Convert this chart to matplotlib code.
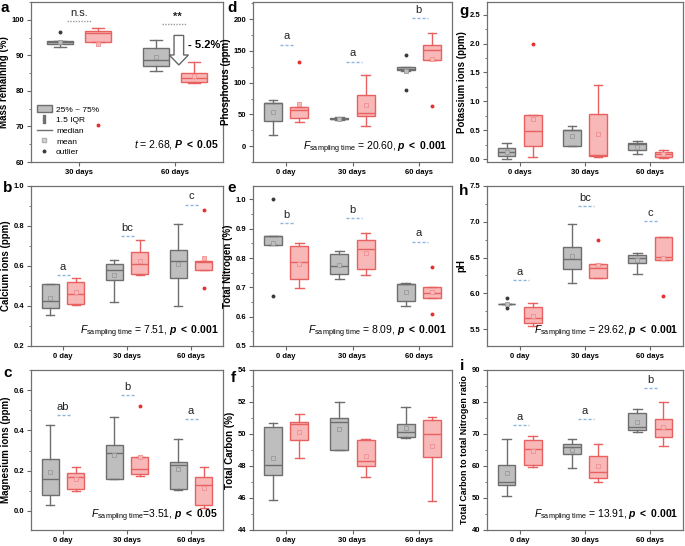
import matplotlib

matplotlib.use("Agg")
import matplotlib.pyplot as plt
from matplotlib.lines import Line2D
from matplotlib.patches import Patch
from matplotlib.ticker import FormatStrFormatter, MultipleLocator

plt.rcParams.update({
    "font.family": ["Liberation Sans", "DejaVu Sans"],
    "mathtext.fontset": "custom",
    "mathtext.rm": "Liberation Sans",
    "mathtext.it": "Liberation Sans:italic",
    "mathtext.bf": "Liberation Sans:bold",
    "mathtext.bfit": "Liberation Sans:italic:bold",
})

DAYS = ["0 day", "30 days", "60 days"]
DAYS_K = ["0 days", "30 days", "60 days"]
DAYS_MASS = ["30 days", "60 days"]

# box values: (whisker low, q1, median, q3, whisker high); _g = grey, _r = red
mass_g = [(92.4, 93.3, 93.8, 94.1, 94.1), (85.6, 86.9, 88.7, 92.2, 94.2)]
mass_g_mean = [93.8, 89.4]
mass_g_out = [[96.5], []]
mass_r = [(93.7, 93.7, 96.2, 96.9, 97.6), (82.3, 82.5, 83.7, 84.9, 88.0)]
mass_r_mean = [93.3, 84.2]
mass_r_out = [[70.3], []]

ca_g = [(0.353, 0.39, 0.423, 0.51, 0.51), (0.42, 0.53, 0.58, 0.61, 0.63), (0.40, 0.54, 0.623, 0.68, 0.81)]
ca_g_mean = [0.438, 0.553, 0.61]
ca_g_out = [[], [], []]
ca_r = [(0.403, 0.41, 0.46, 0.52, 0.54), (0.553, 0.56, 0.61, 0.67, 0.73), (0.58, 0.58, 0.62, 0.623, 0.623)]
ca_r_mean = [0.47, 0.627, 0.64]
ca_r_out = [[], [], [0.88, 0.49]]
ca_sig = ["a", "bc", "c"]
ca_sig_y = [0.555, 0.75, 0.907]

mg_g = [(0.03, 0.08, 0.158, 0.258, 0.428), (0.16, 0.16, 0.288, 0.328, 0.468), (0.102, 0.108, 0.23, 0.242, 0.358)]
mg_g_mean = [0.193, 0.28, 0.208]
mg_g_out = [[], [], []]
mg_r = [(0.10, 0.108, 0.17, 0.188, 0.22), (0.172, 0.182, 0.208, 0.27, 0.27), (0.012, 0.028, 0.128, 0.168, 0.22)]
mg_r_mean = [0.158, 0.27, 0.115]
mg_r_out = [[], [0.52], []]
mg_sig = ["ab", "b", "a"]
mg_sig_y = [0.475, 0.575, 0.458]

p_g = [(17.7, 39.5, 67.2, 67.2, 73.4), (41.0, 42.0, 43.5, 45.0, 46.0), (119.0, 119.5, 121.0, 124.0, 124.0)]
p_g_mean = [53.1, 43.5, 119.0]
p_g_out = [[], [], [144.0, 88.0]]
p_r = [(37.5, 44.7, 56.2, 61.4, 61.4), (32.2, 47.0, 51.6, 80.2, 112.0), (136.0, 136.0, 151.0, 160.0, 178.0)]
p_r_mean = [66.6, 64.5, 138.0]
p_r_out = [[133.0], [], [63.0]]
p_sig = ["a", "a", "b"]
p_sig_y = [160, 133, 202]

n_g = [(0.845, 0.845, 0.874, 0.874, 0.874), (0.73, 0.746, 0.772, 0.813, 0.824), (0.638, 0.652, 0.71, 0.71, 0.716)]
n_g_mean = [0.853, 0.777, 0.685]
n_g_out = [[1.0, 0.67], [], []]
n_r = [(0.699, 0.728, 0.785, 0.841, 0.85), (0.742, 0.762, 0.831, 0.861, 0.885), (0.663, 0.663, 0.682, 0.70, 0.70)]
n_r_mean = [0.78, 0.816, 0.685]
n_r_out = [[], [], [0.768, 0.608]]
n_sig = ["b", "b", "a"]
n_sig_y = [0.92, 0.937, 0.856]

c_g = [(45.88, 47.46, 48.04, 50.44, 50.71), (49.0, 49.0, 50.75, 50.98, 52.0), (49.77, 49.83, 50.13, 50.63, 51.69)]
c_g_mean = [48.52, 50.34, 50.4]
c_g_out = [[], [], []]
c_r = [(48.52, 49.63, 50.65, 50.75, 51.23), (47.31, 48.0, 48.33, 49.6, 49.71), (45.81, 48.59, 50.03, 50.9, 51.06)]
c_r_mean = [50.15, 48.6, 49.28]
c_r_out = [[], [], []]

k_g = [(0.01, 0.05, 0.12, 0.20, 0.28), (0.23, 0.23, 0.50, 0.50, 0.57), (0.09, 0.16, 0.26, 0.28, 0.32)]
k_g_mean = [0.12, 0.40, 0.21]
k_g_out = [[], [], []]
k_r = [(0.04, 0.22, 0.49, 0.76, 0.76), (0.04, 0.05, 0.07, 0.78, 1.29), (0.02, 0.04, 0.09, 0.13, 0.16)]
k_r_mean = [0.70, 0.44, 0.09]
k_r_out = [[1.99], [], []]

ph_g = [(5.85, 5.85, 5.85, 5.855, 5.855), (6.14, 6.335, 6.48, 6.645, 6.97), (6.27, 6.425, 6.49, 6.53, 6.57)]
ph_g_mean = [5.85, 6.52, 6.47]
ph_g_out = [[5.935, 5.80], [], []]
ph_r = [(5.545, 5.587, 5.66, 5.81, 5.87), (6.22, 6.22, 6.36, 6.41, 6.41), (6.47, 6.47, 6.515, 6.79, 6.79)]
ph_r_mean = [5.69, 6.39, 6.5]
ph_r_out = [[], [6.74], [5.965]]
ph_sig = ["a", "bc", "c"]
ph_sig_y = [6.18, 7.22, 7.01]

cn_g = [(50.5, 54.2, 55.0, 60.2, 68.3), (59.5, 63.8, 65.8, 66.9, 68.3), (70.6, 71.4, 72.2, 76.5, 77.9)]
cn_g_mean = [57.7, 65.0, 73.8]
cn_g_out = [[], [], []]
cn_r = [(59.6, 60.2, 65.2, 68.0, 69.3), (54.9, 56.2, 58.2, 63.0, 66.8), (66.1, 69.0, 71.5, 74.6, 80.0)]
cn_r_mean = [64.6, 59.9, 72.3]
cn_r_out = [[], [], []]
cn_sig = ["a", "a", "b"]
cn_sig_y = [72.7, 74.6, 84.4]

GREY = dict(face="#BEBEBE", edge="#6E6E6E", mean="#9A9A9A", out="#3A3A3A")
RED = dict(face="#F8B8B8", edge="#E8605F", mean="#F09090", out="#E53030")
SIG_BLUE = "#8DB4E0"
W, H = 685, 546


def add_axes(fig, x0, x1, y0, y1):
    return fig.add_axes([x0 / W, 1 - y1 / H, (x1 - x0) / W, (y1 - y0) / H])


def draw_boxes(ax, boxes, means, outs, offset, col):
    stats = [dict(whislo=b[0], q1=b[1], med=b[2], q3=b[3], whishi=b[4], mean=m, fliers=o)
             for b, m, o in zip(boxes, means, outs)]
    pos = [i + 1 + offset for i in range(len(stats))]
    ax.bxp(stats, positions=pos, widths=0.27, capwidths=0.13, patch_artist=True,
           showmeans=True, manage_ticks=False,
           boxprops=dict(facecolor=col["face"], edgecolor=col["edge"], linewidth=1.0),
           medianprops=dict(color=col["edge"], linewidth=1.0),
           whiskerprops=dict(color=col["edge"], linewidth=1.0),
           capprops=dict(color=col["edge"], linewidth=1.0),
           meanprops=dict(marker="s", markersize=2.2, markerfacecolor=col["face"],
                          markeredgecolor=col["mean"], markeredgewidth=0.6),
           flierprops=dict(marker="o", markersize=1.8, markerfacecolor=col["out"],
                           markeredgecolor=col["out"]))


def setup(ax, labels, ylim, major, minor, fmt, ylabel, label_size=7):
    ax.set_xlim(0.5, len(labels) + 0.5)
    ax.set_ylim(*ylim)
    ax.set_xticks(range(1, len(labels) + 1))
    ax.set_xticklabels(labels, fontsize=5.5, fontweight="bold")
    ax.yaxis.set_major_locator(MultipleLocator(major))
    ax.yaxis.set_minor_locator(MultipleLocator(minor))
    ax.yaxis.set_major_formatter(FormatStrFormatter(fmt))
    for t in ax.get_yticklabels():
        t.set_fontsize(5.5)
        t.set_fontweight("bold")
    ax.tick_params(axis="both", which="major", direction="out", length=3, width=0.8,
                   color="#666666", pad=2)
    ax.tick_params(axis="y", which="minor", direction="out", length=1.5, width=0.6,
                   color="#666666")
    ax.tick_params(axis="x", which="minor", bottom=False)
    for sp in ax.spines.values():
        sp.set_color("#707070")
        sp.set_linewidth(0.9)
    ax.set_ylabel(ylabel, fontsize=label_size, fontweight="bold", labelpad=2)


def sig_marks(ax, letters, ys, ylim):
    rng = ylim[1] - ylim[0]
    for i, (lab, y) in enumerate(zip(letters, ys)):
        x = i + 1
        ax.plot([x - 0.1, x + 0.14], [y, y], color=SIG_BLUE, lw=1.0, ls=(0, (2.2, 1.4)))
        ax.text(x, y + 0.02 * rng, lab, ha="center", va="bottom", fontsize=8, color="#222222")


def f_text(ax, stat, p):
    ax.text(0.975, 0.075, r"$F_{\mathrm{sampling\ time}}$" + stat + r" $\mathbfit{p}\ \mathbf{<\ %s}$" % p,
            transform=ax.transAxes, ha="right", va="baseline", fontsize=7.5)


def panel(fig, rect, labels, g, g_mean, g_out, r, r_mean, r_out, ylim, major, minor, fmt,
          ylabel, label_size=7):
    ax = add_axes(fig, *rect)
    draw_boxes(ax, g, g_mean, g_out, -0.2, GREY)
    draw_boxes(ax, r, r_mean, r_out, 0.2, RED)
    setup(ax, labels, ylim, major, minor, fmt, ylabel, label_size)
    return ax


fig = plt.figure(figsize=(W / 100, H / 100), dpi=100)
cols = [(31, 223), (253, 452), (487, 683)]
rows = [(2, 162), (186, 346), (370, 530)]

# a: mass remaining
ax = panel(fig, (*cols[0], *rows[0]), DAYS_MASS, mass_g, mass_g_mean, mass_g_out,
           mass_r, mass_r_mean, mass_r_out, (60, 105), 10, 5, "%d", "Mass remaining (%)")
ax.plot([0.87, 1.13], [99.7, 99.7], color="#9A9A9A", lw=1.0, ls=(0, (1, 1)))
ax.text(1.0, 100.6, "n.s.", ha="center", va="bottom", fontsize=8, color="#222222")
ax.plot([1.86, 2.13], [98.8, 98.8], color="#9A9A9A", lw=1.0, ls=(0, (1, 1)))
ax.text(2.02, 99.3, "**", ha="center", va="bottom", fontsize=8, fontweight="bold", color="#222222")
ax.arrow(2.04, 95.6, 0, -8.3, width=0.1, head_width=0.2, head_length=2.8,
         length_includes_head=True, facecolor="white", edgecolor="#666666", lw=1.0, zorder=4)
ax.text(2.14, 92.9, "- 5.2%", ha="left", va="center", fontsize=8, fontweight="bold")
ax.text(0.98, 0.09, r"$t$ = 2.68, $\mathbfit{P}\ \mathbf{<\ 0.05}$", transform=ax.transAxes,
        ha="right", va="baseline", fontsize=7.5)
handles = [
    Patch(facecolor=GREY["face"], edgecolor=GREY["edge"], lw=1.0),
    Line2D([], [], marker="$\\mathrm{I}$", ls="none", color="#707070", markersize=6),
    Line2D([], [], color="#707070", lw=1.0),
    Line2D([], [], marker="s", ls="none", markersize=2.5, markerfacecolor="#D8D8D8",
           markeredgecolor="#B0B0B0"),
    Line2D([], [], marker="o", ls="none", markersize=1.8, color="#3A3A3A"),
]
ax.legend(handles, ["25% ~ 75%", "1.5 IQR", "median", "mean", "outlier"], loc="lower left",
          bbox_to_anchor=(0.0, 0.0), frameon=False, fontsize=6, handlelength=1.8,
          handleheight=0.9, labelspacing=0.28, borderaxespad=0.3, handletextpad=0.5)

# b: calcium
ax = panel(fig, (*cols[0], *rows[1]), DAYS, ca_g, ca_g_mean, ca_g_out, ca_r, ca_r_mean,
           ca_r_out, (0.2, 1.0), 0.2, 0.1, "%.1f", "Calcium ions (ppm)")
sig_marks(ax, ca_sig, ca_sig_y, (0.2, 1.0))
f_text(ax, " = 7.51,", "0.001")

# c: magnesium
ax = panel(fig, (*cols[0], *rows[2]), DAYS, mg_g, mg_g_mean, mg_g_out, mg_r, mg_r_mean,
           mg_r_out, (-0.095, 0.7), 0.2, 0.1, "%.1f", "Magnesium ions (ppm)")
sig_marks(ax, mg_sig, mg_sig_y, (-0.095, 0.7))
f_text(ax, "=3.51,", "0.05")

# d: phosphorus
ax = panel(fig, (*cols[1], *rows[0]), DAYS, p_g, p_g_mean, p_g_out, p_r, p_r_mean,
           p_r_out, (-25, 227), 50, 25, "%d", "Phosphorus (ppm)")
sig_marks(ax, p_sig, p_sig_y, (-25, 227))
f_text(ax, " = 20.60,", "0.001")

# e: total nitrogen
ax = panel(fig, (*cols[1], *rows[1]), DAYS, n_g, n_g_mean, n_g_out, n_r, n_r_mean,
           n_r_out, (0.5, 1.046), 0.1, 0.05, "%.1f", "Total Nitrogen (%)")
sig_marks(ax, n_sig, n_sig_y, (0.5, 1.046))
f_text(ax, " = 8.09,", "0.001")

# f: total carbon
ax = panel(fig, (*cols[1], *rows[2]), DAYS, c_g, c_g_mean, c_g_out, c_r, c_r_mean,
           c_r_out, (44, 54), 2, 1, "%d", "Total Carbon (%)")

# g: potassium
ax = panel(fig, (*cols[2], *rows[0]), DAYS_K, k_g, k_g_mean, k_g_out, k_r, k_r_mean,
           k_r_out, (-0.05, 2.72), 0.5, 0.25, "%.1f", "Potassium ions (ppm)")

# h: pH
ax = panel(fig, (*cols[2], *rows[1]), DAYS, ph_g, ph_g_mean, ph_g_out, ph_r, ph_r_mean,
           ph_r_out, (5.265, 7.5), 0.5, 0.25, "%.1f", "pH")
sig_marks(ax, ph_sig, ph_sig_y, (5.265, 7.5))
f_text(ax, " = 29.62,", "0.001")

# i: C/N ratio
ax = panel(fig, (*cols[2], *rows[2]), DAYS, cn_g, cn_g_mean, cn_g_out, cn_r, cn_r_mean,
           cn_r_out, (40, 90), 10, 5, "%d", "Total Carbon to total Nitrogen ratio", 6.4)
sig_marks(ax, cn_sig, cn_sig_y, (40, 90))
f_text(ax, " = 13.91,", "0.001")

for lab, x, y in [("a", 5, 8), ("b", 8, 188), ("c", 8, 373), ("d", 232, 8), ("e", 232, 188),
                  ("f", 233, 378), ("g", 464, 11), ("h", 464, 191), ("i", 462, 366)]:
    fig.text(x / W, 1 - y / H, lab, fontsize=11, fontweight="bold", ha="center", va="center")

fig.savefig("out.png", dpi=100)
plt.close(fig)
